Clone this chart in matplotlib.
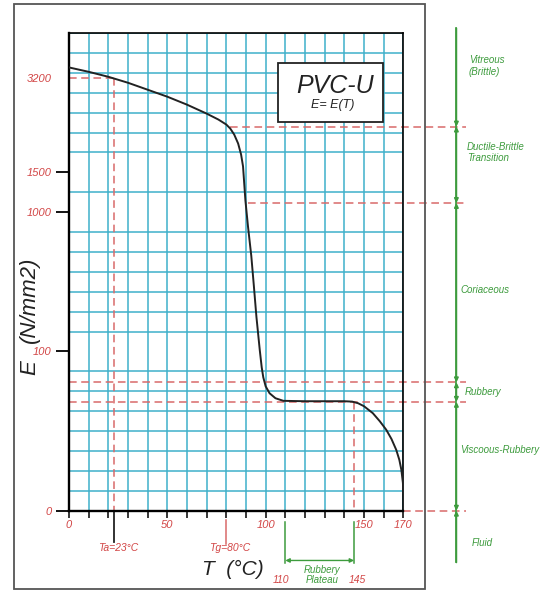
import matplotlib.pyplot as plt
from matplotlib.patches import Rectangle
from matplotlib.ticker import MultipleLocator

plt.rcParams['font.family'] = ['Liberation Sans', 'DejaVu Sans']

# curve E = E(T), y is in schematic grid units (the E scale is not linear)
T_curve = [0, 10, 20, 30, 40, 50, 60, 70, 76, 80, 82, 84, 86, 87.5, 88.5, 89.7, 91, 92.7, 94,
           95.3, 97, 98, 98.8, 100, 102, 105, 109, 120, 130, 140, 144, 147, 150, 154.5, 158,
           161.3, 164, 166.4, 168, 169, 169.8, 170]
E_curve = [22.27, 22.05, 21.8, 21.5, 21.15, 20.8, 20.4, 19.95, 19.65, 19.4, 19.2, 18.9, 18.45,
           17.9, 17.3, 15.6, 14.3, 12.8, 11.3, 9.75, 8.08, 7.2, 6.7, 6.25, 5.9, 5.65, 5.52, 5.5,
           5.5, 5.5, 5.48, 5.4, 5.25, 4.9, 4.5, 4.07, 3.6, 3.06, 2.55, 2.06, 1.4, 0.9]

E_labels = ['0', '100', '1000', '1500', '3200']
E_pos = [0, 8, 15, 17, 21.72]
T_labels = {0: '0', 50: '50', 100: '100', 150: '150', 170: '170'}

Ta, Tg = 23, 80
plateau = [110, 145]
E_ta = 21.72
# boundaries between the states (grid units)
bounds = [19.3, 15.46, 6.45, 5.47, 0]
bound_start = [82, 91, 0, 0, 170]
states = ['Vitreous\n(Brittle)', 'Ductile-Brittle\nTransition', 'Coriaceous', 'Rubbery',
          'Viscoous-Rubbery', 'Fluid']
state_y = [22.35, 18.0, 11.08, 5.96, 3.05, -1.63]
state_x = [203.4, 202.3, 199.3, 201.3, 198.8, 205]

red = '#d24545'
dash_red = '#d86a6a'
green = '#3d9b3d'
grid_c = '#3fb0ca'

fig = plt.figure(figsize=(5.45, 5.91), dpi=100)
ax = fig.add_axes([69 / 545, 1 - 510.7 / 591, 334.3 / 545, 477.7 / 591])
ax.set_xlim(0, 170)
ax.set_ylim(0, 24)

# grid paper
ax.set_xticks(range(0, 171, 10))
ax.set_xticklabels([T_labels.get(t, '') for t in range(0, 171, 10)],
                   color=red, style='italic', fontsize=8)
ax.set_yticks(E_pos)
ax.set_yticklabels(E_labels, color=red, style='italic', fontsize=8)
ax.yaxis.set_minor_locator(MultipleLocator(1))
ax.tick_params(axis='y', which='major', length=9.5, width=1.3, pad=3)
ax.tick_params(axis='y', which='minor', length=0)
ax.tick_params(axis='x', which='major', length=5, width=1.1, pad=2)
ax.yaxis.get_major_ticks()[-1].tick1line.set_visible(False)
ax.grid(which='major', axis='x', color=grid_c, lw=1.1)
ax.grid(which='minor', axis='y', color=grid_c, lw=1.1)
ax.set_axisbelow(True)
for s in ['left', 'bottom']:
    ax.spines[s].set_linewidth(1.7)
for s in ['top', 'right']:
    ax.spines[s].set_linewidth(1.2)

ax.plot(T_curve, E_curve, color='#222222', lw=1.4, zorder=4)

# red dashed guide lines
dash = (0, (5, 3))
ax.plot([0, Ta], [E_ta, E_ta], color=dash_red, lw=1.1, ls=dash, clip_on=False)
ax.plot([Ta, Ta], [E_ta, 0], color=dash_red, lw=1.1, ls=dash, clip_on=False)
for b, x0 in zip(bounds, bound_start):
    ax.plot([x0, 202], [b, b], color=dash_red, lw=1.1, ls=dash, clip_on=False)
ax.plot([plateau[1], plateau[1]], [bounds[3], 0], color=dash_red, lw=1.1, ls=dash, clip_on=False)

# Ta / Tg markers
ax.plot([Ta, Ta], [0, -1.57], color='#222222', lw=1.3, clip_on=False)
ax.plot([Tg, Tg], [-0.47, -1.65], color=dash_red, lw=1.1, clip_on=False)
ax.text(Ta + 2, -1.85, 'Ta=23°C', color=red, style='italic', fontsize=7.5, ha='center', va='center')
ax.text(Tg + 1.5, -1.85, 'Tg=80°C', color=red, style='italic', fontsize=7.5, ha='center', va='center')

# rubbery plateau
for p in plateau:
    ax.plot([p, p], [-0.55, -2.63], color=green, lw=1.1, clip_on=False)
ax.annotate('', xy=(plateau[0], -2.5), xytext=(plateau[1], -2.5), annotation_clip=False,
            arrowprops=dict(arrowstyle='<|-|>', color=green, lw=1, shrinkA=0, shrinkB=0,
                            mutation_scale=6))
ax.text(128.5, -3.25, 'Rubbery\nPlateau', color=green, style='italic', fontsize=7,
        ha='center', va='center', linespacing=1.0)
ax.text(plateau[0] - 2, -3.48, str(plateau[0]), color=red, style='italic', fontsize=7.5,
        ha='center', va='center')
ax.text(plateau[1] + 1.5, -3.48, str(plateau[1]), color=red, style='italic', fontsize=7.5,
        ha='center', va='center')

# state bar on the right
xb = 197
ax.plot([xb, xb], [24.24, -2.6], color=green, lw=1.2, clip_on=False)
levels = [24.24] + bounds + [-2.6]
for i in range(len(levels) - 1):
    hi, lo = levels[i], levels[i + 1]
    if i == 0:
        ax.annotate('', xy=(xb, lo), xytext=(xb, hi), annotation_clip=False,
                    arrowprops=dict(arrowstyle='-|>', color=green, lw=1.2, shrinkA=0,
                                    shrinkB=0, mutation_scale=6))
    elif i == len(levels) - 2:
        ax.annotate('', xy=(xb, hi), xytext=(xb, lo), annotation_clip=False,
                    arrowprops=dict(arrowstyle='-|>', color=green, lw=1.2, shrinkA=0,
                                    shrinkB=0, mutation_scale=6))
    else:
        ax.annotate('', xy=(xb, lo), xytext=(xb, hi), annotation_clip=False,
                    arrowprops=dict(arrowstyle='<|-|>', color=green, lw=1.2, shrinkA=0,
                                    shrinkB=0, mutation_scale=6))
for name, x, y in zip(states, state_x, state_y):
    ax.text(x, y, name, color=green, style='italic', fontsize=7, ha='left', va='center',
            linespacing=1.2)

# title box
ax.add_patch(Rectangle((106.3, 19.53), 53.3, 2.97, fc='white', ec='#222222', lw=1.3, zorder=5))
ax.text(135.2, 21.34, 'PVC-U', fontsize=18, style='italic', ha='center', va='center', zorder=6,
        color='#222222')
ax.text(134.2, 20.39, 'E= E(T)', fontsize=9, style='italic', ha='center', va='center', zorder=6,
        color='#222222')

# axis titles (the E and the unit sit either side of the "100" label)
ax.text(-0.118, 0.284, 'E', transform=ax.transAxes, rotation=90, fontsize=16, style='italic',
        color='#222222', ha='center', va='bottom')
ax.text(-0.118, 0.352, '(N/mm2)', transform=ax.transAxes, rotation=90, fontsize=16,
        style='italic', color='#222222', ha='center', va='bottom')
ax.set_xlabel('T  (°C)', fontsize=15, style='italic', color='#222222')
ax.xaxis.set_label_coords(0.49, -0.122)
ax.xaxis.label.set_va('center')

# outer frame
fig.add_artist(Rectangle((14 / 545, 2 / 591), 411 / 545, 585 / 591, transform=fig.transFigure,
                         fill=False, ec='#555555', lw=1.3))

fig.savefig('out.png', dpi=100)
